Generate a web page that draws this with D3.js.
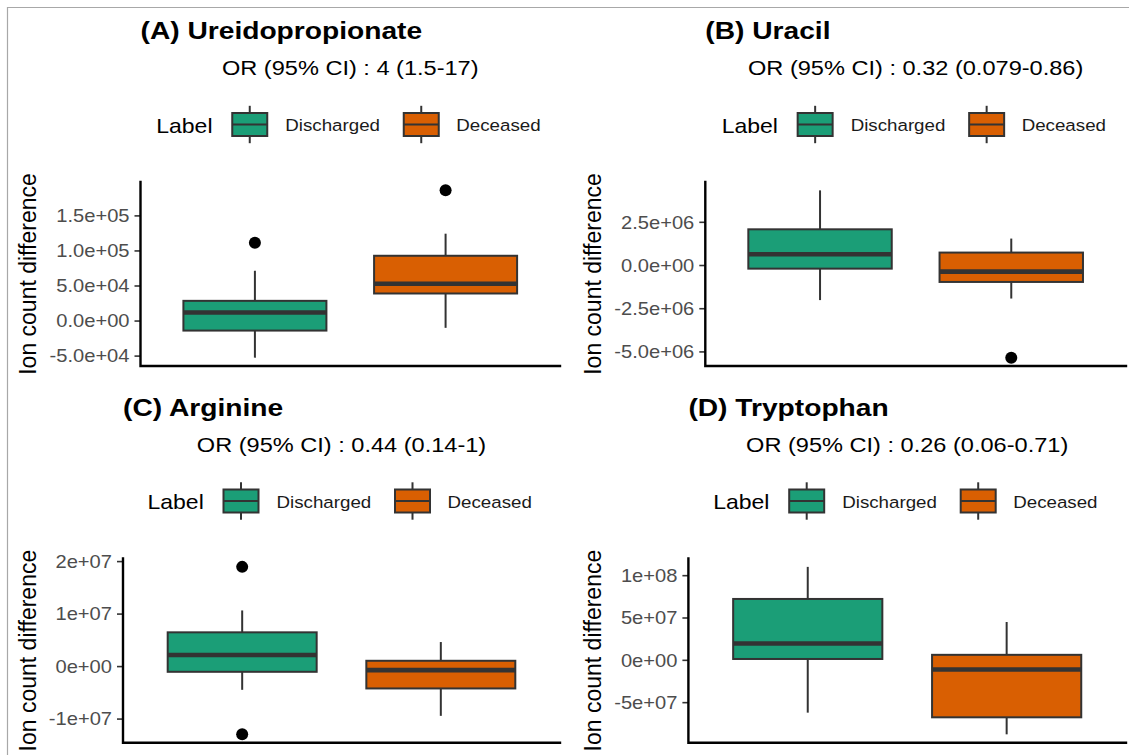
<!DOCTYPE html>
<html>
<head>
<meta charset="utf-8">
<script src="https://cdn.jsdelivr.net/npm/d3@7"></script>
<style>
  html, body { margin: 0; padding: 0; background: #ffffff; }
  svg { display: block; }
  text { font-family: "Liberation Sans", Arial, sans-serif; }
</style>
</head>
<body>
<script>
// ---------------- DATA ----------------
const titles = ["(A) Ureidopropionate", "(B) Uracil", "(C) Arginine", "(D) Tryptophan"];
const orLabels = [
  "OR (95% CI) : 4 (1.5-17)",
  "OR (95% CI) : 0.32 (0.079-0.86)",
  "OR (95% CI) : 0.44 (0.14-1)",
  "OR (95% CI) : 0.26 (0.06-0.71)"
];
const groups = ["Discharged", "Deceased"];
const legendTitle = "Label";
const yTitle = "Ion count difference";

// box statistics per panel: [Discharged, Deceased]
const whiskerLow  = [[-52900, -10400], [-2.03e6, -1.94e6], [-4.52e6, -9.48e6], [-62.4e6, -88.0e6]];
const q1          = [[-14300, 38600],  [-0.21e6, -0.98e6], [-1.09e6, -4.26e6], [1.0e6, -67.9e6]];
const medians     = [[11400, 52400],   [0.62e6, -0.38e6],  [2.1e6, -0.76e6],   [19.3e6, -11.5e6]];
const q3          = [[28100, 92400],   [2.066e6, 0.72e6],  [6.43e6, 1.01e6],   [71.9e6, 5.9e6]];
const whiskerHigh = [[71000, 123900],  [4.32e6, 1.53e6],   [10.6e6, 4.58e6],   [109.8e6, 44.7e6]];
const outliers    = [[[111000], [185700]], [[], [-5.36e6]], [[18.9e6, -13.0e6], []], [[], []]];

const yTicks = [
  [-5e4, 0, 5e4, 1e5, 1.5e5],
  [-5e6, -2.5e6, 0, 2.5e6],
  [-1e7, 0, 1e7, 2e7],
  [-5e7, 0, 5e7, 1e8]
];
const tickDigits = [1, 1, 0, 0];

// ---------------- STYLE / LAYOUT ----------------
const W = 1129, H = 755;
const fillColors = ["#1B9E77", "#D95F02"];
const panelBoxes = [
  { left: 140.5, right: 560,  top: 182,   bottom: 366 },
  { left: 705.3, right: 1126, top: 182,   bottom: 366 },
  { left: 123,   right: 560,  top: 558.5, bottom: 742.7 },
  { left: 688.4, right: 1126, top: 558.5, bottom: 742.7 }
];
const yTitleX = [28, 593, 28, 593];
const SX = 1.15; // horizontal text stretch
const LW = 2.0;  // box outline width

function rExp(v, digits) {
  const s = v.toExponential(digits);
  return s.replace(/e([+-])(\d)$/, "e$10$2");
}

const svg = d3.select("body").append("svg")
  .attr("width", W).attr("height", H);

svg.append("rect").attr("width", W).attr("height", H).attr("fill", "#fff");

// outer frame (top + left)
svg.append("path")
  .attr("d", `M7.5,${H} L7.5,7.5 L${W},7.5`)
  .attr("fill", "none").attr("stroke", "#a8a8a8").attr("stroke-width", 1.2);

function stretchedText(g, x, y, str) {
  return g.append("text")
    .attr("transform", `translate(${x},${y}) scale(${SX},1)`)
    .text(str);
}

panelBoxes.forEach((pb, i) => {
  const g = svg.append("g");
  const allVals = [].concat(whiskerLow[i], whiskerHigh[i], ...outliers[i]);
  const lo = d3.min(allVals), hi = d3.max(allVals);
  const pad = (hi - lo) * 0.05;
  const y = d3.scaleLinear().domain([lo - pad, hi + pad]).range([pb.bottom, pb.top]);
  const x = d3.scalePoint().domain(groups).range([pb.left, pb.right]).padding(0.6);
  const bw = x.step() * 0.75;
  const cx = (pb.left + pb.right) / 2;

  // title
  stretchedText(g, pb.left, pb.top - 142.7, titles[i])
    .attr("font-size", 24.5).attr("font-weight", "bold").attr("fill", "#000");
  // subtitle
  stretchedText(g, cx, pb.top - 107, orLabels[i])
    .attr("font-size", 20.5).attr("text-anchor", "middle").attr("fill", "#000");

  // legend
  const ly = pb.top - 57.5;
  stretchedText(g, cx - 194, ly + 1, legendTitle)
    .attr("font-size", 20).attr("dy", "0.35em").attr("fill", "#000");
  const keyX = [cx - 118, cx + 53.5];
  const txtX = [cx - 65, cx + 106];
  groups.forEach((grp, k) => {
    const kx = keyX[k], kw = 35;
    g.append("line").attr("x1", kx + kw / 2).attr("x2", kx + kw / 2)
      .attr("y1", ly - 18.7).attr("y2", ly + 18.7)
      .attr("stroke", "#333").attr("stroke-width", LW);
    g.append("rect").attr("x", kx).attr("y", ly - 11.5).attr("width", kw).attr("height", 23)
      .attr("fill", fillColors[k]).attr("stroke", "#333").attr("stroke-width", LW);
    g.append("line").attr("x1", kx).attr("x2", kx + kw).attr("y1", ly).attr("y2", ly)
      .attr("stroke", "#333").attr("stroke-width", LW);
    stretchedText(g, txtX[k], ly + 1, grp)
      .attr("font-size", 16.3).attr("dy", "0.35em").attr("fill", "#1a1a1a");
  });

  // y axis
  const yAxis = d3.axisLeft(y).tickValues(yTicks[i]).tickSize(6).tickPadding(5)
    .tickFormat(d => rExp(d, tickDigits[i]));
  const ag = g.append("g").attr("transform", `translate(${pb.left},0)`).call(yAxis);
  ag.select(".domain").remove();
  ag.selectAll(".tick line").attr("stroke", "#333").attr("stroke-width", 1.6);
  ag.selectAll(".tick text").each(function () {
    const t = d3.select(this);
    const tx = +t.attr("x");
    t.attr("x", null).attr("dy", "0.36em")
      .attr("transform", `translate(${tx},0) scale(${SX},1)`);
  }).attr("font-size", 17.5).attr("fill", "#4d4d4d")
    .attr("font-family", "'Liberation Sans', Arial, sans-serif");

  // axis lines
  g.append("path")
    .attr("d", `M${pb.left},${pb.top} L${pb.left},${pb.bottom} L${pb.right},${pb.bottom}`)
    .attr("fill", "none").attr("stroke", "#000").attr("stroke-width", 2.4)
    .attr("stroke-linecap", "square");

  // y title
  g.append("text")
    .attr("transform", `translate(${yTitleX[i]},${(pb.top + pb.bottom) / 2}) rotate(-90)`)
    .attr("text-anchor", "middle").attr("dy", "0.35em")
    .attr("font-size", 23).attr("fill", "#000")
    .text(yTitle);

  // boxes
  groups.forEach((grp, k) => {
    const px = x(grp);
    g.append("line").attr("x1", px).attr("x2", px)
      .attr("y1", y(whiskerHigh[i][k])).attr("y2", y(q3[i][k]))
      .attr("stroke", "#333").attr("stroke-width", LW);
    g.append("line").attr("x1", px).attr("x2", px)
      .attr("y1", y(q1[i][k])).attr("y2", y(whiskerLow[i][k]))
      .attr("stroke", "#333").attr("stroke-width", LW);
    g.append("rect").attr("x", px - bw / 2).attr("width", bw)
      .attr("y", y(q3[i][k])).attr("height", y(q1[i][k]) - y(q3[i][k]))
      .attr("fill", fillColors[k]).attr("stroke", "#333").attr("stroke-width", LW);
    g.append("line").attr("x1", px - bw / 2).attr("x2", px + bw / 2)
      .attr("y1", y(medians[i][k])).attr("y2", y(medians[i][k]))
      .attr("stroke", "#333").attr("stroke-width", 4.6);
    outliers[i][k].forEach(v => {
      g.append("circle").attr("cx", px).attr("cy", y(v)).attr("r", 6).attr("fill", "#000");
    });
  });
});
</script>
</body>
</html>
